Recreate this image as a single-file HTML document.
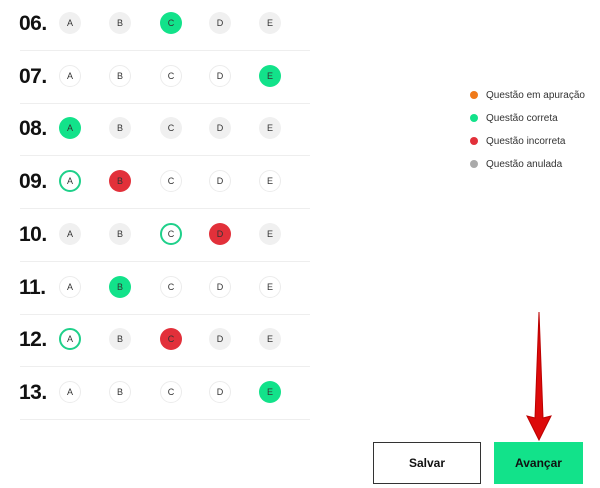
<!DOCTYPE html>
<html><head><meta charset="utf-8"><style>
body{margin:0;width:600px;height:488px;background:#fff;font-family:"Liberation Sans",sans-serif;position:relative;overflow:hidden}
.n{position:absolute;left:19px;font-weight:bold;font-size:21px;color:#111;letter-spacing:-0.5px}
.c{position:absolute;width:22px;height:22px;border-radius:50%;box-sizing:border-box;font-size:9px;color:#333;display:flex;align-items:center;justify-content:center}
.g{background:#f0f0f0}
.w{background:#fff;border:1px solid #ececec}
.G{background:#12e28a}
.R{background:#e2303a}
.O{background:#fff;border:2px solid #1fd08a}
.l{position:absolute;left:20px;width:290px;height:1px;background:#eee}
.lg{position:absolute;left:470px;font-size:10px;color:#333}
.lg i{display:inline-block;width:8px;height:8px;border-radius:50%;margin-right:8px;vertical-align:-1px}
</style></head><body>
<div id="q"></div>
<script>
var rows=[["06.","ggGgg"],["07.","wwwwG"],["08.","Ggggg"],["09.","ORwww"],["10.","ggORg"],["11.","wGwww"],["12.","OgRgg"],["13.","wwwwG"]];
var xs=[70,120,171,220,270],L="ABCDE",h="";
rows.forEach(function(r,i){var y=23+i*52.7;
h+='<div class="n" style="top:'+(y-11)+'px">'+r[0]+'</div>';
for(var j=0;j<5;j++)h+='<div class="c '+r[1][j]+'" style="left:'+(xs[j]-11)+'px;top:'+(y-11)+'px">'+L[j]+'</div>';
h+='<div class="l" style="top:'+Math.round(y+27)+'px"></div>';});
document.getElementById('q').innerHTML=h;
</script>
<div class="lg" style="top:90px"><i style="background:#f07a1a"></i>Questão em apuração</div>
<div class="lg" style="top:113px"><i style="background:#12e28a"></i>Questão correta</div>
<div class="lg" style="top:136px"><i style="background:#e2303a"></i>Questão incorreta</div>
<div class="lg" style="top:159px"><i style="background:#aaa"></i>Questão anulada</div>
<svg style="position:absolute;left:0;top:0" width="600" height="488">
<polygon points="539,312 543,418 551,416 539,440 527,416 535,418" fill="#dd0a0a" stroke="#b00" stroke-width="1"/>
</svg>
<div style="position:absolute;left:373px;top:442px;width:108px;height:42px;box-sizing:border-box;border:1px solid #333;display:flex;align-items:center;justify-content:center;font-weight:bold;font-size:12px;color:#111">Salvar</div>
<div style="position:absolute;left:494px;top:442px;width:89px;height:42px;background:#12e28a;display:flex;align-items:center;justify-content:center;font-weight:bold;font-size:12px;color:#111">Avançar</div>
</body></html>
